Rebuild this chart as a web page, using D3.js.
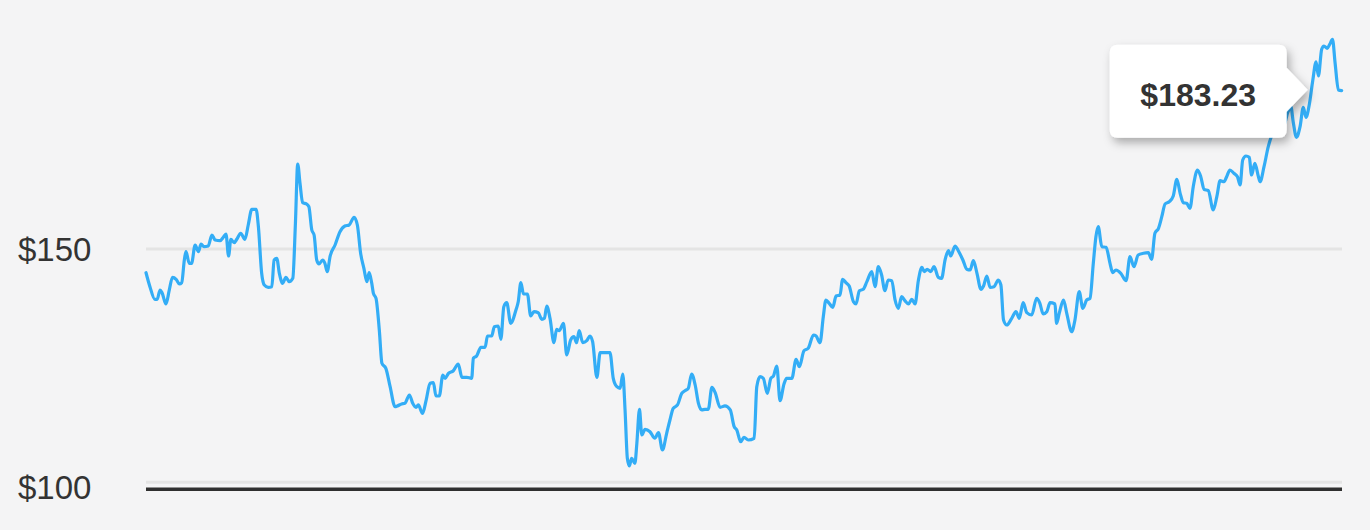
<!DOCTYPE html>
<html>
<head>
<meta charset="utf-8">
<script src="https://cdn.jsdelivr.net/npm/d3@7/dist/d3.min.js"></script>
<style>
  html, body { margin: 0; padding: 0; background: #f4f4f5; }
  svg { display: block; }
  text { font-family: "Liberation Sans", Arial, Helvetica, sans-serif; }
</style>
</head>
<body>
<svg id="chart" width="1370" height="530"></svg>
<script>
// Day offset (0..365) of each sample and closing price in USD
const days = [
  0.0, 1.2, 2.7, 3.4, 4.3, 4.9, 6.1, 7.1, 8.1, 9.2, 10.2, 10.9, 11.7, 12.2, 13.2, 13.9, 15.0, 16.0, 16.8, 17.7,
  19.0, 20.1, 21.1, 22.6, 23.6, 24.4, 25.2, 25.9, 26.9, 27.7, 28.9, 30.2, 31.2, 32.3, 33.6, 34.3, 35.3, 36.1, 37.3, 38.4,
  39.1, 39.9, 40.7, 41.7, 42.7, 43.7, 44.8, 45.6, 46.3, 47.0, 47.8, 49.0, 49.7, 50.6, 51.3, 52.1, 52.8, 53.9, 54.6, 55.3,
  56.2, 57.7, 59.2, 60.7, 62.0, 63.5, 64.5, 65.5, 66.5, 67.4, 68.1, 68.9, 69.4, 70.2, 71.2, 72.0, 73.2, 74.5, 76.0, 76.7,
  78.0, 79.0, 80.4, 81.4, 82.4, 83.1, 84.4, 85.5, 86.7, 87.7, 88.5, 89.5,
  90.6, 91.3, 92.3, 93.8, 95.3, 96.4, 97.9, 99.4, 99.9, 100.9, 102.2, 103.5, 104.2, 105.5, 106.3, 107.5, 108.3, 109.2, 110.1, 111.3,
  112.9, 113.6, 114.4, 115.2, 116.4, 117.4, 118.4, 119.7, 120.8, 121.6, 122.3, 123.3, 124.5, 125.3, 126.1, 127.4, 128.4, 129.6, 130.6, 131.4,
  132.2, 133.3, 134.5, 135.5, 136.3, 137.6, 138.6, 140.1, 141.6, 142.6, 143.7, 144.7, 145.5, 146.2, 146.9, 147.5, 148.2, 149.2, 149.8, 150.6,
  151.3, 152.3, 153.8, 155.3, 156.4, 157.6, 158.9, 159.9, 160.9, 162.2, 163.5, 164.5, 165.5, 166.5, 167.6, 168.6, 169.6, 170.6, 171.6, 172.7,
  173.7, 175.2, 176.7, 178.3, 179.5, 180.3, 181.5, 182.5, 183.8,
  185.6, 186.4, 187.4, 188.4, 189.6, 190.7, 191.5, 192.5, 193.5, 194.7, 195.5, 197.1, 198.4, 199.4, 200.8, 202.1, 203.7, 204.5, 205.7, 206.7,
  207.5, 208.5, 209.6, 210.6, 211.8, 212.6, 213.6, 214.6, 215.9, 216.7, 217.7, 218.9, 220.0, 221.5, 222.5, 223.5, 224.5, 225.5, 226.5, 227.6,
  228.6, 229.6, 230.6, 231.6, 232.7, 233.7, 234.7, 235.7, 236.8, 237.5, 238.4, 239.5, 240.5, 241.8, 242.8, 243.9, 244.9, 245.6, 246.9, 247.9,
  249.3, 250.5, 251.5, 252.5, 253.6, 254.8, 255.6, 256.6, 257.6, 258.8, 260.1, 260.9, 261.7, 262.7, 264.2, 265.5, 266.5, 267.7, 268.8, 270.3,
  271.8, 272.8, 273.8, 274.9, 275.9,
  277.4, 277.9, 278.7, 280.0, 281.0, 282.5, 283.5, 284.8, 285.9, 287.1, 288.1, 289.1, 289.9, 290.6, 291.7, 293.0, 294.2, 295.0, 296.0, 297.5,
  299.1, 300.3, 301.5, 302.8, 304.4, 305.9, 306.9, 307.9, 309.0, 310.0, 311.0, 312.3, 313.5, 314.6, 315.6, 316.6, 317.6, 318.6, 319.6, 320.9,
  321.9, 322.9, 324.2, 325.7, 326.8, 327.8, 329.0, 329.8, 330.8, 332.0, 333.1, 333.9, 334.7, 335.7, 336.7, 337.4, 338.4, 339.5, 340.0, 341.2,
  342.5, 344.9, 347.3, 348.5, 349.4, 350.1, 351.1, 352.2, 353.2, 354.0, 355.0, 356.1, 357.1, 357.8, 358.8, 359.5, 360.5, 361.3, 362.1, 362.9,
  363.9, 364.9
];
const prices = [
  145.03, 142.09, 139.44, 139.44, 141.39, 140.83, 138.46, 141.39, 144.06, 143.64, 142.65, 142.93, 147.69, 149.43, 147.00, 147.00, 150.84, 149.43, 151.05, 150.48,
  150.63, 152.94, 151.89, 151.74, 152.46, 153.15, 148.53, 152.04, 151.32, 152.04, 153.30, 152.04, 155.04, 158.33, 158.33, 154.68, 144.90, 142.44, 141.96, 142.09,
  147.69, 148.05, 144.90, 142.80, 144.06, 143.14, 143.85, 155.39, 167.84, 163.79, 159.72, 159.45, 158.88, 153.99, 152.94, 147.69, 146.85, 147.69, 147.00, 145.24,
  148.53, 150.84, 153.63, 154.83, 155.04, 156.65, 155.04, 149.10, 145.95, 143.14, 145.03, 142.80, 140.70, 139.65, 133.00, 126.01, 124.96, 121.10, 116.90, 117.05,
  117.47, 117.61, 119.35, 117.61, 116.77, 117.26, 115.51, 118.30, 121.81, 121.94, 119.14, 119.14,
  123.55, 122.86, 123.91, 124.45, 125.86, 123.07, 123.07, 122.86, 127.06, 127.54, 129.37, 129.37, 131.74, 131.74, 133.69, 133.84, 131.05, 137.89, 138.73, 134.40,
  137.20, 138.94, 142.93, 140.55, 140.55, 135.94, 136.84, 136.63, 135.24, 135.45, 138.04, 135.45, 130.33, 133.14, 132.85, 134.40, 127.75, 130.90, 131.59, 130.33,
  132.85, 130.33, 130.75, 131.74, 130.54, 123.07, 128.23, 128.23, 128.23, 122.86, 121.10, 120.76, 123.76, 116.21, 106.07, 104.45, 106.07, 105.02, 109.22, 116.35,
  110.96, 112.15, 111.65, 110.27, 111.44, 107.81, 111.32, 114.11, 116.56, 117.26, 119.71, 120.26, 120.76, 123.76, 121.45, 117.61, 116.21, 116.35, 116.35, 120.97,
  119.84, 116.77, 117.05, 116.21, 112.70, 112.01, 109.55, 110.48, 109.91,
  110.27, 121.10, 123.20, 122.86, 119.71, 122.86, 123.34, 125.44, 118.16, 121.66, 122.86, 122.86, 126.85, 125.29, 128.65, 129.16, 131.95, 131.74, 130.33, 135.79,
  139.30, 138.60, 137.76, 140.13, 140.34, 143.64, 142.93, 142.23, 138.94, 138.46, 141.25, 141.54, 143.14, 145.24, 142.09, 146.28, 144.54, 141.25, 143.49, 143.35,
  139.30, 137.55, 139.99, 139.15, 138.46, 139.44, 138.46, 143.35, 146.16, 145.24, 145.74, 145.24, 146.28, 144.06, 143.85, 147.84, 149.64, 148.53, 150.63, 149.64,
  147.69, 145.74, 145.59, 147.54, 144.90, 141.54, 142.23, 144.33, 141.96, 142.09, 143.49, 142.44, 135.10, 134.05, 135.45, 136.84, 135.45, 138.73, 136.63, 136.15,
  139.65, 138.60, 136.36, 136.84, 138.73,
  138.46, 134.40, 136.50, 139.30, 136.50, 132.64, 135.10, 141.04, 137.55, 139.30, 139.65, 147.00, 152.58, 154.68, 150.48, 150.36, 147.00, 145.03, 145.59, 144.90,
  143.35, 148.38, 146.28, 148.74, 149.10, 149.22, 147.84, 153.30, 154.34, 156.78, 159.45, 159.93, 161.12, 164.63, 161.69, 159.72, 159.59, 158.54, 163.08, 166.58,
  165.18, 162.53, 162.24, 158.19, 160.98, 164.34, 164.13, 165.18, 166.58, 165.89, 165.18, 163.43, 168.68, 169.52, 169.25, 165.53, 167.99, 165.18, 164.13, 167.27,
  171.47, 175.40, 176.03, 178.76, 179.87, 176.72, 173.45, 175.67, 179.74, 177.64, 180.23, 185.47, 189.31, 186.31, 191.92, 192.61, 192.13, 193.03, 194.02, 188.98,
  183.37, 183.23
];
const tickValues = [100, 150];
const tickLabels = ["$100", "$150"];
const tooltipLabel = "$183.23";

const svg = d3.select("#chart");
const W = 1370, H = 530;
svg.append("rect").attr("width", W).attr("height", H).attr("fill", "#f4f4f5");

const x = d3.scaleLinear().domain([0, 365]).range([146, 1342]);
const y = d3.scaleLinear().domain([100, 150]).range([487.2, 249]);

// shadow filter for tooltip
const defs = svg.append("defs");
const f = defs.append("filter").attr("id", "shadow").attr("x", "-20%").attr("y", "-30%").attr("width", "150%").attr("height", "170%");
f.append("feDropShadow").attr("dx", 3).attr("dy", 5).attr("stdDeviation", 5)
  .attr("flood-color", "#000").attr("flood-opacity", 0.3);

// gridlines
const grid = svg.append("g");
grid.selectAll("line").data(tickValues).join("line")
  .attr("x1", x(0)).attr("x2", x(365))
  .attr("y1", d => d === 100 ? y(d) - 5 : y(d))
  .attr("y2", d => d === 100 ? y(d) - 5 : y(d))
  .attr("stroke", "#e4e4e4").attr("stroke-width", 3);

// baseline
svg.append("line")
  .attr("x1", x(0)).attr("x2", x(365))
  .attr("y1", y(100) + 2).attr("y2", y(100) + 2)
  .attr("stroke", "#2f2f2f").attr("stroke-width", 3.5);

// y labels
svg.append("g").selectAll("text").data(tickValues).join("text")
  .attr("x", 18).attr("y", d => y(d))
  .attr("dy", "0.36em")
  .attr("font-size", 33)
  .attr("fill", "#333")
  .text((d, i) => tickLabels[i]);

// price line
const data = days.map((d, i) => ({ d, v: prices[i] }));
const line = d3.line().x(p => x(p.d)).y(p => y(p.v)).curve(d3.curveMonotoneX);
svg.append("path").datum(data)
  .attr("d", line)
  .attr("fill", "none")
  .attr("stroke", "#33adf6")
  .attr("stroke-width", 3.2)
  .attr("stroke-linejoin", "round")
  .attr("stroke-linecap", "round");

// tooltip
const last = data[data.length - 1];
const tipX = x(last.d) - 34, tipY = y(last.v) - 1;
const bx0 = tipX - 198, bx1 = tipX - 21, by0 = tipY - 45, by1 = tipY + 48, r = 8;
const tp = d3.path();
tp.moveTo(bx0 + r, by0);
tp.lineTo(bx1 - r, by0);
tp.quadraticCurveTo(bx1, by0, bx1, by0 + r);
tp.lineTo(bx1, tipY - 22);
tp.lineTo(tipX, tipY);
tp.lineTo(bx1, tipY + 22);
tp.lineTo(bx1, by1 - r);
tp.quadraticCurveTo(bx1, by1, bx1 - r, by1);
tp.lineTo(bx0 + r, by1);
tp.quadraticCurveTo(bx0, by1, bx0, by1 - r);
tp.lineTo(bx0, by0 + r);
tp.quadraticCurveTo(bx0, by0, bx0 + r, by0);
tp.closePath();
svg.append("path").attr("d", tp.toString()).attr("fill", "#ffffff").attr("filter", "url(#shadow)");
svg.append("text")
  .attr("x", (bx0 + bx1) / 2).attr("y", tipY + 5)
  .attr("text-anchor", "middle").attr("dy", "0.36em")
  .attr("font-size", 32).attr("font-weight", "bold").attr("fill", "#333")
  .text(tooltipLabel);
</script>
</body>
</html>
